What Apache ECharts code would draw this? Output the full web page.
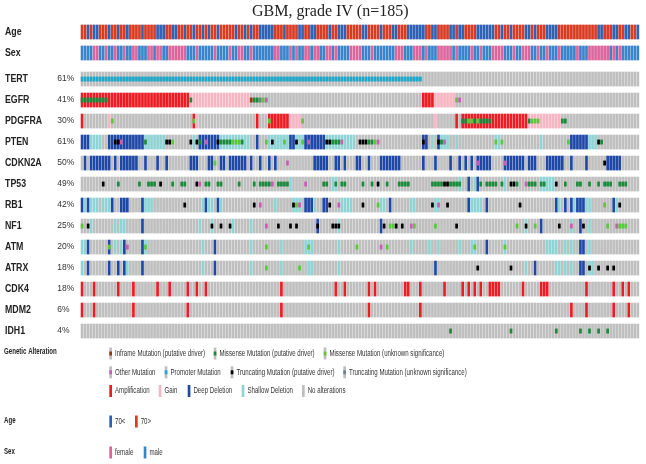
<!DOCTYPE html>
<html>
<head>
<meta charset="utf-8">
<script src="https://cdn.jsdelivr.net/npm/echarts@6/dist/echarts.min.js"></script>
<style>
html, body { margin: 0; padding: 0; background: #fff; }
#main { width: 646px; height: 464px; }
</style>
</head>
<body>
<div id="main"></div>
<script>
// ---- data ----
const sampleCount = 185;
const genes = ['TERT', 'EGFR', 'PDGFRA', 'PTEN', 'CDKN2A', 'TP53', 'RB1', 'NF1', 'ATM', 'ATRX', 'CDK4', 'MDM2', 'IDH1'];
const genePct = ['61%', '41%', '30%', '61%', '50%', '49%', '42%', '25%', '20%', '18%', '18%', '6%', '4%'];

// o = 70>, y = 70<
const ageTrack =
  'ooyoyyoooyooyooyooooyooooyyyooyyooyooyooyoyooyoo' +
  'oooyooyoyooyyyyyoooyooooyyooyyooooyooyyyoooooy' +
  'yooooyoooyyoooyyyyyyooyyooooyyoyyooooyyyyyyooy' +
  'ooyooooyyoyoooyyyy' + 'ooooooooooooo' + 'yyoooyyooyyooy';
// f = female, m = male
const sexTrack =
  'mmmmffmmfmmfmmfmmffmmmffmffmmffffffmmmfmmmmmfmmm' +
  'mfmmffmmf' + 'mmmmmmm' + 'ffmmmfmfmmffmffmmffmf' + 'mmmm' + 'ffffm' +
  'mmf' + 'mmmmmmm' + 'fffmmmfffmf' + 'mmm' + 'fffff' + 'mf' + 'mmmm' + 'fmmfmmmffff' +
  'mmmfmmfffmmfmmfmmmf' + 'mmmmm' + 'fmmm' + 'fffffff' + 'mfmf' + 'mmmmmm';

// copy-number runs [from, to, code]: A amp, G gain, D deep del, S shallow del
const TERT_CNA = [];
const EGFR_CNA = [[0, 35, 'A'], [36, 55, 'G'], [113, 116, 'A'], [117, 123, 'G']];
const PDGFRA_CNA = [[0, 0, 'A'], [9, 9, 'G'], [37, 37, 'A'], [38, 38, 'G'], [58, 58, 'A'], [62, 68, 'A'], [69, 72, 'G'],
  [117, 117, 'G'], [124, 124, 'A'], [126, 147, 'A'], [148, 158, 'G']];
const PTEN_CNA = [[0, 2, 'D'], [3, 6, 'S'], [9, 20, 'D'], [21, 27, 'S'], [37, 37, 'S'], [39, 45, 'D'], [46, 55, 'S'],
  [58, 58, 'D'], [62, 68, 'S'], [69, 70, 'D'], [71, 73, 'S'], [74, 80, 'D'], [81, 90, 'S'], [113, 114, 'D'], [116, 116, 'S'],
  [118, 118, 'D'], [119, 121, 'S'], [124, 124, 'S'], [137, 138, 'S'], [152, 152, 'S'], [162, 167, 'D'], [168, 170, 'S']];
const CDKN2A_CNA = [[1, 1, 'D'], [3, 9, 'D'], [11, 11, 'D'], [13, 18, 'D'], [21, 21, 'D'], [25, 25, 'D'], [28, 28, 'D'],
  [36, 38, 'D'], [42, 43, 'D'], [46, 47, 'D'], [49, 52, 'D'], [53, 54, 'D'], [56, 56, 'D'], [59, 59, 'D'], [62, 62, 'D'],
  [64, 64, 'D'], [77, 81, 'D'], [84, 85, 'D'], [87, 87, 'D'], [91, 92, 'D'], [95, 95, 'D'], [99, 105, 'D'], [113, 113, 'D'],
  [117, 117, 'D'], [122, 122, 'D'], [125, 125, 'D'], [127, 127, 'D'], [129, 129, 'D'], [131, 135, 'D'], [140, 146, 'D'],
  [148, 150, 'D'], [154, 158, 'D'], [159, 159, 'D'], [162, 162, 'D'], [167, 167, 'D'], [174, 178, 'D']];
const TP53_CNA = [[69, 69, 'S'], [83, 84, 'S'], [125, 125, 'S'], [128, 128, 'D'], [130, 130, 'S'], [131, 131, 'D'],
  [140, 140, 'S'], [152, 156, 'S']];
const RB1_CNA = [[0, 0, 'D'], [1, 1, 'S'], [2, 2, 'D'], [3, 5, 'S'], [7, 9, 'S'], [10, 10, 'D'], [13, 15, 'D'], [20, 20, 'D'],
  [21, 23, 'S'], [40, 40, 'S'], [41, 41, 'D'], [42, 43, 'S'], [45, 45, 'D'], [46, 46, 'S'], [64, 64, 'S'], [70, 72, 'S'],
  [74, 76, 'D'], [77, 77, 'S'], [80, 81, 'D'], [86, 89, 'S'], [99, 100, 'S'], [102, 102, 'D'], [109, 110, 'S'], [117, 118, 'S'],
  [128, 128, 'D'], [129, 131, 'S'], [132, 132, 'S'], [134, 134, 'D'], [157, 157, 'D'], [158, 158, 'S'], [160, 160, 'D'],
  [162, 162, 'D'], [163, 163, 'S'], [164, 166, 'D'], [167, 168, 'S'], [176, 176, 'D'], [177, 177, 'S']];
const NF1_CNA = [[3, 3, 'S'], [11, 11, 'S'], [13, 14, 'S'], [20, 20, 'D'], [39, 39, 'S'], [43, 43, 'S'], [50, 50, 'S'],
  [56, 56, 'S'], [78, 78, 'D'], [85, 85, 'S'], [99, 99, 'D'], [147, 147, 'S'], [152, 152, 'D'], [162, 162, 'S'],
  [165, 165, 'D'], [168, 168, 'S']];
const ATM_CNA = [[0, 1, 'S'], [2, 2, 'D'], [9, 9, 'D'], [11, 11, 'S'], [13, 13, 'S'], [14, 14, 'D'], [20, 20, 'D'], [21, 21, 'S'],
  [40, 40, 'S'], [44, 44, 'D'], [56, 56, 'S'], [66, 66, 'S'], [74, 76, 'S'], [85, 85, 'S'], [109, 109, 'S'], [115, 115, 'S'],
  [118, 118, 'S'], [125, 125, 'S'], [129, 130, 'S'], [134, 134, 'D'], [140, 140, 'S'], [154, 157, 'S'], [160, 160, 'S'],
  [162, 162, 'S'], [165, 166, 'D'], [168, 168, 'S']];
const ATRX_CNA = [[0, 0, 'S'], [2, 2, 'D'], [9, 9, 'D'], [12, 12, 'D'], [14, 14, 'D'], [15, 15, 'S'], [20, 20, 'D'], [40, 40, 'S'],
  [44, 44, 'D'], [56, 56, 'S'], [66, 66, 'S'], [75, 76, 'S'], [85, 85, 'S'], [117, 117, 'D'], [147, 147, 'S'], [150, 150, 'D'],
  [157, 158, 'S'], [160, 160, 'S'], [162, 162, 'S'], [165, 166, 'D'], [168, 169, 'S']];
const CDK4_CNA = [[0, 0, 'A'], [4, 4, 'A'], [12, 12, 'A'], [17, 17, 'A'], [25, 25, 'A'], [29, 29, 'A'], [35, 35, 'A'], [38, 38, 'A'],
  [41, 41, 'A'], [66, 66, 'A'], [84, 84, 'A'], [87, 87, 'A'], [95, 95, 'A'], [97, 97, 'A'], [107, 108, 'A'], [112, 112, 'A'],
  [120, 120, 'A'], [126, 126, 'A'], [128, 128, 'A'], [130, 130, 'A'], [132, 132, 'A'], [135, 138, 'A'], [146, 146, 'A'],
  [152, 154, 'A'], [167, 167, 'A'], [176, 176, 'A'], [179, 179, 'A'], [181, 181, 'A']];
const MDM2_CNA = [[0, 0, 'A'], [4, 4, 'A'], [17, 17, 'A'], [35, 35, 'A'], [66, 66, 'A'], [95, 95, 'A'], [112, 112, 'A'],
  [162, 162, 'A'], [167, 167, 'A'], [176, 176, 'A'], [181, 181, 'A']];
const IDH1_CNA = [];

// mutation runs [from, to, code]: M missense driver, U missense unknown, I inframe driver,
// T truncating driver, V truncating unknown, O other, P promoter
const TERT_MUT = [[0, 112, 'P']];
const EGFR_MUT = [[0, 8, 'M'], [36, 36, 'M'], [56, 56, 'I'], [57, 58, 'M'], [59, 59, 'V'], [60, 60, 'U'], [61, 61, 'O'],
  [124, 124, 'U'], [125, 125, 'O']];
const PDGFRA_MUT = [[10, 10, 'U'], [37, 37, 'U'], [62, 62, 'U'], [73, 73, 'U'], [126, 127, 'M'], [128, 129, 'U'], [130, 130, 'M'],
  [131, 131, 'U'], [132, 135, 'M'], [148, 148, 'M'], [149, 151, 'U'], [159, 160, 'M']];
const PTEN_MUT = [[11, 12, 'T'], [13, 13, 'O'], [21, 21, 'M'], [28, 29, 'T'], [30, 30, 'U'], [36, 36, 'T'], [38, 38, 'T'],
  [39, 39, 'M'], [41, 41, 'O'], [45, 45, 'T'], [46, 49, 'M'], [50, 52, 'U'], [53, 53, 'M'], [61, 61, 'U'], [63, 63, 'T'],
  [67, 67, 'U'], [71, 71, 'T'], [73, 73, 'U'], [75, 75, 'O'], [81, 82, 'T'], [83, 85, 'M'], [86, 86, 'O'], [92, 94, 'T'],
  [95, 96, 'M'], [97, 97, 'U'], [98, 98, 'O'], [113, 113, 'T'], [118, 118, 'T'], [119, 119, 'M'], [120, 120, 'O'],
  [137, 137, 'U'], [139, 139, 'U'], [161, 161, 'U'], [171, 171, 'T'], [172, 172, 'M']];
const CDKN2A_MUT = [[44, 44, 'U'], [68, 68, 'O'], [131, 131, 'O'], [140, 140, 'O'], [173, 173, 'T']];
const TP53_MUT = [[7, 7, 'T'], [12, 12, 'M'], [19, 19, 'M'], [22, 24, 'M'], [26, 26, 'T'], [30, 30, 'M'], [33, 34, 'M'],
  [38, 38, 'T'], [39, 39, 'O'], [41, 42, 'M'], [45, 46, 'M'], [52, 52, 'M'], [57, 57, 'M'], [59, 62, 'M'], [63, 63, 'O'],
  [65, 68, 'M'], [74, 74, 'O'], [80, 81, 'M'], [84, 84, 'M'], [86, 87, 'M'], [93, 93, 'M'], [96, 96, 'M'], [98, 98, 'T'],
  [101, 101, 'M'], [105, 108, 'M'], [116, 119, 'M'], [120, 121, 'T'], [122, 125, 'M'], [132, 132, 'M'], [134, 137, 'M'],
  [139, 139, 'M'], [142, 143, 'T'], [144, 144, 'M'], [147, 147, 'O'], [148, 150, 'M'], [152, 153, 'M'], [157, 157, 'T'],
  [160, 160, 'M'], [164, 165, 'M'], [168, 168, 'M'], [171, 171, 'M'], [173, 175, 'M'], [178, 180, 'M']];
const RB1_MUT = [[34, 34, 'T'], [57, 57, 'T'], [59, 59, 'O'], [70, 70, 'T'], [71, 71, 'U'], [72, 72, 'O'], [82, 82, 'T'],
  [85, 85, 'O'], [93, 93, 'T'], [98, 98, 'U'], [116, 116, 'T'], [118, 118, 'O'], [121, 121, 'T'], [145, 145, 'T'],
  [173, 173, 'U'], [178, 178, 'T']];
const NF1_MUT = [[0, 0, 'U'], [2, 2, 'T'], [43, 43, 'T'], [46, 46, 'T'], [49, 49, 'T'], [61, 61, 'O'], [65, 65, 'T'],
  [69, 69, 'T'], [71, 71, 'T'], [78, 78, 'T'], [83, 85, 'T'], [100, 100, 'T'], [102, 103, 'U'], [104, 104, 'T'],
  [106, 106, 'T'], [109, 109, 'O'], [110, 110, 'U'], [117, 117, 'U'], [124, 124, 'T'], [144, 144, 'U'], [147, 147, 'T'],
  [150, 150, 'U'], [158, 158, 'T'], [162, 162, 'O'], [166, 166, 'T'], [174, 174, 'U'], [177, 177, 'O'], [178, 180, 'U']];
const ATM_MUT = [[9, 9, 'U'], [15, 15, 'O'], [21, 21, 'U'], [61, 61, 'U'], [75, 75, 'U'], [91, 91, 'U'], [99, 99, 'O'],
  [101, 101, 'U'], [130, 130, 'U'], [140, 140, 'U']];
const ATRX_MUT = [[61, 61, 'U'], [72, 72, 'U'], [131, 131, 'T'], [142, 142, 'T'], [168, 168, 'T'], [171, 171, 'T'],
  [174, 174, 'T'], [176, 176, 'T']];
const CDK4_MUT = [];
const MDM2_MUT = [];
const IDH1_MUT = [[122, 122, 'M'], [142, 142, 'M'], [157, 157, 'M'], [165, 165, 'M'], [168, 168, 'M'], [171, 171, 'M'],
  [174, 174, 'M']];

const geneCna = [TERT_CNA, EGFR_CNA, PDGFRA_CNA, PTEN_CNA, CDKN2A_CNA, TP53_CNA, RB1_CNA, NF1_CNA, ATM_CNA, ATRX_CNA, CDK4_CNA, MDM2_CNA, IDH1_CNA];
const geneMut = [TERT_MUT, EGFR_MUT, PDGFRA_MUT, PTEN_MUT, CDKN2A_MUT, TP53_MUT, RB1_MUT, NF1_MUT, ATM_MUT, ATRX_MUT, CDK4_MUT, MDM2_MUT, IDH1_MUT];

// ---- colours ----
const fills = {
  '.': '#bfbfbf',
  A: '#ec1c24', G: '#f6b5c3', D: '#1f48a6', S: '#8fd3d4',
  M: '#1a8a3b', U: '#5cc63c', I: '#993404', T: '#000000', V: '#708090', O: '#c95cb5', P: '#1fa7c9',
  o: '#d83b22', y: '#2f62b5', f: '#dc659c', m: '#3a84cc'
};
const fillKeys = Object.keys(fills);

// ---- layout ----
const rowStep = 21;
const geneStart = 2.24;       // first gene row (in row units)
const yMax = geneStart + genes.length - 1 + 0.5;

function expand(runs) {
  const arr = new Array(sampleCount).fill('.');
  runs.forEach(([a, b, c]) => { for (let i = a; i <= b; i++) arr[i] = c; });
  return arr;
}

const cellData = [];
const markData = [];
for (let i = 0; i < sampleCount; i++) {
  cellData.push([i, 0, fillKeys.indexOf(ageTrack[i])]);
  cellData.push([i, 1, fillKeys.indexOf(sexTrack[i])]);
}
genes.forEach((g, gi) => {
  const y = geneStart + gi;
  const cna = expand(geneCna[gi]);
  const mut = expand(geneMut[gi]);
  for (let i = 0; i < sampleCount; i++) {
    cellData.push([i, y, fillKeys.indexOf(cna[i])]);
    if (mut[i] !== '.') markData.push([i, y, fillKeys.indexOf(mut[i])]);
  }
});

function drawCell(frac) {
  return function (params, api) {
    const p = api.coord([api.value(0), api.value(1)]);
    const w = api.size([1, 0])[0];
    const h = api.size([0, 1])[1] * 0.7 * frac;
    return {
      type: 'rect',
      shape: { x: p[0], y: p[1] - h / 2, width: w - 0.3, height: h },
      style: { fill: fills[fillKeys[api.value(2)]] }
    };
  };
}

var chartDom = document.getElementById('main');
var myChart = echarts.init(chartDom);
var option = {
  animation: false,
  backgroundColor: '#fff',
  title: {
    text: 'GBM, grade IV (n=185)',
    left: 247,
    top: -1,
    textStyle: { fontFamily: 'Liberation Serif', fontSize: 16, fontWeight: 'normal', color: '#222' }
  },
  grid: { left: 80.7, top: 32 - rowStep / 2, width: 558.8, height: (yMax + 0.5) * rowStep },
  xAxis: { type: 'value', min: 0, max: sampleCount, show: false },
  yAxis: { type: 'value', min: -0.5, max: yMax, inverse: true, show: false },
  series: [
    { type: 'custom', renderItem: drawCell(1), data: cellData, encode: { x: 0, y: 1 } },
    { type: 'custom', renderItem: drawCell(1 / 3), data: markData, encode: { x: 0, y: 1 } }
  ]
};
myChart.setOption(option);

// ---- labels and legend ----
const yOf = (r) => myChart.convertToPixel({ gridIndex: 0 }, [0, r])[1];
const graphics = [];
function label(text, x, y, font, sx, color) {
  graphics.push({
    type: 'text', x: x, y: y, scaleX: sx,
    style: { text: text, font: font, fill: color || '#222', textVerticalAlign: 'middle', verticalAlign: 'middle' }
  });
}
const boldFont = 'bold 10px "Liberation Sans"';
label('Age', 5, yOf(0), boldFont, 0.88);
label('Sex', 5, yOf(1), boldFont, 0.88);
genes.forEach((g, gi) => {
  label(g, 5, yOf(geneStart + gi), boldFont, 0.88);
  label(genePct[gi], 57.3, yOf(geneStart + gi), '8.5px "Liberation Sans"', 1, '#333');
});

const legendMut = [['I', 'Inframe Mutation (putative driver)'], ['M', 'Missense Mutation (putative driver)'],
  ['U', 'Missense Mutation (unknown significance)'], ['O', 'Other Mutation'], ['P', 'Promoter Mutation'],
  ['T', 'Truncating Mutation (putative driver)'], ['V', 'Truncating Mutation (unknown significance)']];
const legendCna = [['A', 'Amplification'], ['G', 'Gain'], ['D', 'Deep Deletion'], ['S', 'Shallow Deletion'], ['.', 'No alterations']];
const legendAge = [['y', '70<'], ['o', '70>']];
const legendSex = [['f', 'female'], ['m', 'male']];

function swatch(code, x, y, isMut) {
  graphics.push({ type: 'rect', shape: { x: x, y: y - 6, width: 2.7, height: 12 },
    style: { fill: isMut ? fills['.'] : fills[code] } });
  if (isMut) graphics.push({ type: 'rect', shape: { x: x, y: y - 2, width: 2.7, height: 4 }, style: { fill: fills[code] } });
}
const legendFont = '8.5px "Liberation Sans"';
function legendRow(items, xs, y, isMut) {
  items.forEach((it, k) => {
    swatch(it[0], xs[k], y, isMut);
    label(it[1], xs[k] + 5.7, y, legendFont, 0.72, '#333');
  });
}
const legendBold = 'bold 8.5px "Liberation Sans"';
label('Genetic Alteration', 4, 352, legendBold, 0.72);
label('Age', 4, 421, legendBold, 0.72);
label('Sex', 4, 452, legendBold, 0.72);
legendRow(legendMut.slice(0, 3), [109.3, 213.7, 323.7], 353.5, true);
legendRow(legendMut.slice(3), [109.3, 164.7, 230.7, 343.3], 372.3, true);
legendRow(legendCna, [109.3, 158.7, 187.7, 241.7, 302], 391, false);
legendRow(legendAge, [109.3, 135], 421.5, false);
legendRow(legendSex, [109.3, 143.7], 452.5, false);

myChart.setOption({ graphic: graphics });
</script>
</body>
</html>
